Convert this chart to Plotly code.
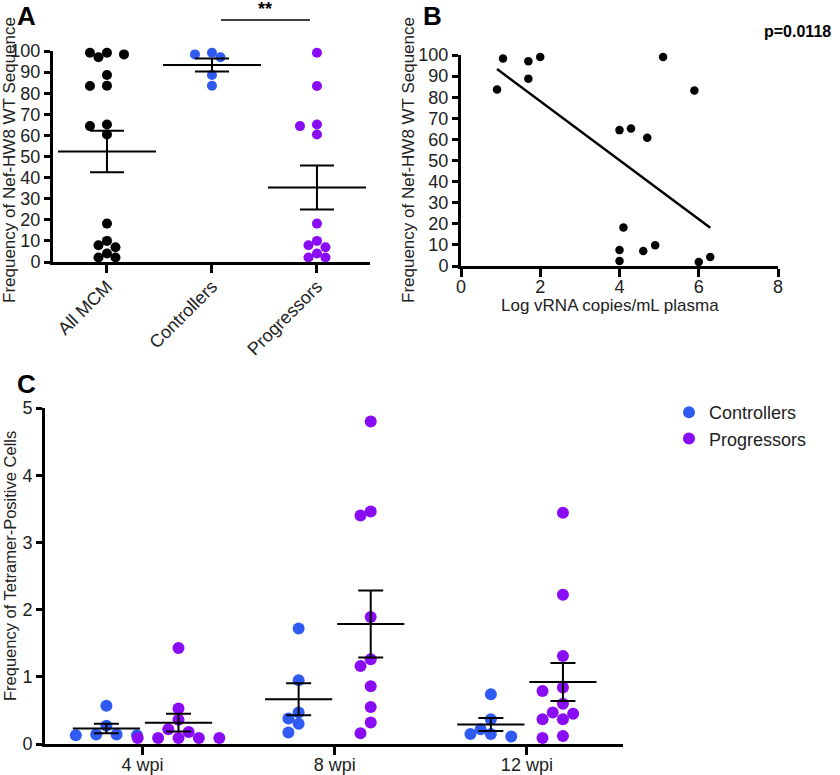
import numpy as np
import plotly.graph_objects as go

W, H = 840, 775

# ---- data ----
groups_a = ["All MCM", "Controllers", "Progressors"]
controllers_a = [98.4, 97.0, 99.2, 88.6, 83.5]
progressors_a = [99.2, 83.4, 64.4, 65.2, 60.4, 18.2, 10.0, 7.9, 7.0, 4.0, 2.1, 2.1]
all_mcm_a = controllers_a + progressors_a

log_vrna_b = [0.91, 1.06, 1.70, 1.70, 2.00, 5.10, 5.89, 4.00, 4.29, 4.70, 4.10, 4.00, 4.60, 4.90, 4.00, 6.00, 6.29]
wt_freq_b = [83.7, 98.3, 97.0, 88.8, 99.1, 99.1, 83.2, 64.4, 65.2, 60.8, 18.2, 7.6, 7.1, 9.8, 2.4, 1.9, 4.3]
p_value_b = "p=0.0118"

weeks_c = ["4 wpi", "8 wpi", "12 wpi"]
controllers_c = [
    [0.57, 0.27, 0.14, 0.13, 0.14, 0.13],
    [1.72, 0.95, 0.47, 0.38, 0.30, 0.17],
    [0.74, 0.37, 0.22, 0.15, 0.11, 0.15],
]
progressors_c = [
    [1.43, 0.53, 0.36, 0.22, 0.18, 0.09, 0.09, 0.09, 0.09, 0.09],
    [4.80, 3.46, 3.40, 1.89, 1.26, 1.16, 0.86, 0.55, 0.32, 0.16],
    [3.44, 2.22, 1.31, 0.84, 0.79, 0.60, 0.47, 0.45, 0.37, 0.37, 0.12, 0.09],
]

BLUE = "#2F5BF2"
PURPLE = "#8A0CF5"
FONT = "Liberation Sans, Arial, sans-serif"


def dom_x(a, b):
    return [a / W, b / W]


def dom_y(top, bottom):
    return [1 - bottom / H, 1 - top / H]


def swarm(vals, center, sx, sy, d):
    # simple beeswarm: put each dot in the nearest free slot left/right of the centre
    pts = []
    xs = [0.0] * len(vals)
    for i in sorted(range(len(vals)), key=lambda j: -vals[j]):
        py = vals[i] * sy
        k = 0
        found = None
        while found is None:
            for c in ([0] if k == 0 else [-k, k]):
                ox = c * 0.85 * d
                if all((ox - qx) ** 2 + (py - qy) ** 2 >= (0.9 * d) ** 2 for qx, qy in pts):
                    found = ox
                    break
            k += 1
        pts.append((found, py))
        xs[i] = center + found / sx
    return xs


def mean_sem(v):
    v = np.asarray(v)
    return v.mean(), v.std(ddof=1) / np.sqrt(len(v))


# ---- panel geometry (pixels) ----
A_X, A_Y = (53, 370), (51, 262)
A_RX = [-0.514, 2.505]
B_X, B_Y = (461, 778), (55, 266)
C_X, C_Y = (45, 623), (408, 744)
C_RX = [-0.507, 2.50]

fig = go.Figure()

# === Panel A ===
sxA = (A_X[1] - A_X[0]) / (A_RX[1] - A_RX[0])
syA = (A_Y[1] - A_Y[0]) / 100
for i, (vals, col) in enumerate(zip([all_mcm_a, controllers_a, progressors_a], ["black", BLUE, PURPLE])):
    fig.add_trace(go.Scatter(x=swarm(vals, i, sxA, syA, 10), y=vals, mode="markers",
                             marker=dict(size=10, color=col), cliponaxis=False,
                             showlegend=False, xaxis="x", yaxis="y"))
    m, s = mean_sem(vals)
    fig.add_trace(go.Scatter(x=[i], y=[m], mode="markers",
                             marker=dict(symbol="line-ew", size=70, line=dict(width=2, color="black")),
                             error_y=dict(type="data", array=[s], width=17, thickness=2, color="black"),
                             showlegend=False, xaxis="x", yaxis="y"))

# === Panel B ===
fig.add_trace(go.Scatter(x=log_vrna_b, y=wt_freq_b, mode="markers",
                         marker=dict(size=8.5, color="black"), cliponaxis=False,
                         showlegend=False, xaxis="x2", yaxis="y2"))
slope, icpt = np.polyfit(log_vrna_b, wt_freq_b, 1)
xfit = np.array([min(log_vrna_b), max(log_vrna_b)])
fig.add_trace(go.Scatter(x=xfit, y=slope * xfit + icpt, mode="lines",
                         line=dict(color="black", width=2.5), showlegend=False,
                         xaxis="x2", yaxis="y2"))

# === Panel C ===
sxC = (C_X[1] - C_X[0]) / (C_RX[1] - C_RX[0])
syC = (C_Y[1] - C_Y[0]) / 5
for name, data, col, shift in [("Controllers", controllers_c, BLUE, -0.1875),
                               ("Progressors", progressors_c, PURPLE, 0.1875)]:
    xs, ys = [], []
    for w, vals in enumerate(data):
        xs += swarm(vals, w + shift, sxC, syC, 12)
        ys += vals
    fig.add_trace(go.Scatter(x=xs, y=ys, mode="markers", name=name,
                             marker=dict(size=12, color=col), cliponaxis=False,
                             xaxis="x3", yaxis="y3"))
    stats = [mean_sem(v) for v in data]
    fig.add_trace(go.Scatter(x=[w + shift for w in range(len(data))], y=[s[0] for s in stats],
                             mode="markers",
                             marker=dict(symbol="line-ew", size=48, line=dict(width=2, color="black")),
                             error_y=dict(type="data", array=[s[1] for s in stats], width=12.5,
                                          thickness=2, color="black"),
                             showlegend=False, xaxis="x3", yaxis="y3"))

axis_style = dict(showline=True, linewidth=3, linecolor="black", ticks="outside",
                  tickwidth=2.5, tickcolor="black", showgrid=False, zeroline=False,
                  automargin=False,
                  tickfont=dict(family=FONT, size=18, color="#222"))

fig.update_layout(
    width=W, height=H,
    margin=dict(l=0, r=0, t=0, b=0, autoexpand=False),
    plot_bgcolor="white", paper_bgcolor="white",
    font=dict(family=FONT, color="#222"),
    xaxis=dict(axis_style, domain=dom_x(*A_X), range=A_RX, anchor="y",
               tickvals=[0, 1, 2], ticktext=groups_a, tickangle=-45, ticklen=8,
               ticklabelstandoff=-4),
    yaxis=dict(axis_style, domain=dom_y(*A_Y), range=[0, 100], anchor="x",
               tickvals=list(range(0, 101, 10)), ticklen=6),
    xaxis2=dict(axis_style, domain=dom_x(*B_X), range=[0, 8], anchor="y2",
                tickvals=[0, 2, 4, 6, 8], ticklen=8, ticklabelstandoff=-6),
    yaxis2=dict(axis_style, domain=dom_y(*B_Y), range=[0, 100], anchor="x2",
                tickvals=list(range(0, 101, 10)), ticklen=6),
    xaxis3=dict(axis_style, domain=dom_x(*C_X), range=C_RX, anchor="y3",
                tickvals=[0, 1, 2], ticktext=weeks_c, ticklen=8, ticklabelstandoff=-6),
    yaxis3=dict(axis_style, domain=dom_y(*C_Y), range=[0, 5], anchor="x3",
                tickvals=[0, 1, 2, 3, 4, 5], ticklen=6),
    legend=dict(x=669 / W, y=1 - 394 / H, xanchor="left", yanchor="top",
                font=dict(family=FONT, size=18, color="#222"), bgcolor="rgba(0,0,0,0)"),
)


def ann(text, px, py, size, bold=False, angle=0):
    fig.add_annotation(text=f"<b>{text}</b>" if bold else text, x=px / W, y=1 - py / H,
                       xref="paper", yref="paper", xanchor="center", yanchor="middle",
                       showarrow=False, textangle=angle,
                       font=dict(family=FONT, size=size, color="black" if bold else "#222"))


ann("A", 27, 16, 26, bold=True)
ann("B", 433, 16, 26, bold=True)
ann("C", 26, 384, 26, bold=True)
ann("Frequency of Nef-HW8 WT Sequence", 10, 160, 17, angle=-90)
ann("Frequency of Nef-HW8 WT Sequence", 409, 160, 17, angle=-90)
ann("Frequency of Tetramer-Positive Cells", 10, 566, 16.5, angle=-90)
ann("Log vRNA copies/mL plasma", 610, 305, 17)
ann(p_value_b, 797, 31, 16, bold=True)
ann("**", 265, 9, 18, bold=True)

# significance bar between Controllers and Progressors
fig.add_shape(type="line", xref="paper", yref="paper", x0=221 / W, x1=310 / W,
              y0=1 - 20 / H, y1=1 - 20 / H, line=dict(color="black", width=1.5))

# the page's default body margin would shift the whole figure by 8px
fig.write_html("out.html", config={"displayModeBar": False},
               post_script="document.body.style.margin='0';")
